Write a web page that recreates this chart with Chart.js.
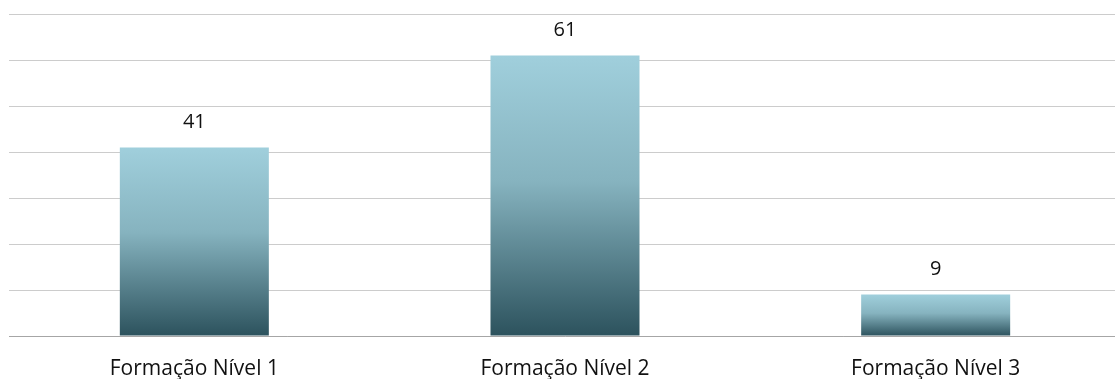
<!DOCTYPE html>
<html>
<head>
<meta charset="utf-8">
<script src="https://cdn.jsdelivr.net/npm/chart.js@4"></script>
<style>
  html, body { margin: 0; padding: 0; background: #ffffff; overflow: hidden; }
  #wrap { width: 1121px; height: 379px; }
</style>
</head>
<body>
<div id="wrap"><canvas id="chart"></canvas></div>
<script>
// Participants per training level
const categories = ['Formação Nível 1', 'Formação Nível 2', 'Formação Nível 3'];
const values = [41, 61, 9];

const FONT = '"Open Sans", sans-serif';

// Vertical gradient fitted to each bar's own height
function barGradient(context) {
  const chart = context.chart;
  const area = chart.chartArea;
  if (!area || context.type !== 'data') return '#9fcdda';
  const y = chart.scales.y;
  const top = y.getPixelForValue(context.parsed.y);
  const bottom = y.getPixelForValue(0);
  const g = chart.ctx.createLinearGradient(0, top, 0, bottom);
  g.addColorStop(0, '#a0cfdc');
  g.addColorStop(0.45, '#86b3bf');
  g.addColorStop(1, '#2c525d');
  return g;
}

// Value labels above the bars
const valueLabels = {
  id: 'valueLabels',
  afterDatasetsDraw(chart) {
    const ctx = chart.ctx;
    const meta = chart.getDatasetMeta(0);
    ctx.save();
    ctx.font = '20px ' + FONT;
    ctx.fillStyle = '#111111';
    ctx.textAlign = 'center';
    ctx.textBaseline = 'middle';
    meta.data.forEach((bar, i) => {
      ctx.fillText(String(values[i]), bar.x, bar.y - 25);
    });
    ctx.restore();
  }
};

new Chart(document.getElementById('chart'), {
  type: 'bar',
  data: {
    labels: categories,
    datasets: [{
      data: values,
      backgroundColor: barGradient,
      borderWidth: 0,
      barPercentage: 0.402,
      categoryPercentage: 1.0
    }]
  },
  options: {
    responsive: true,
    maintainAspectRatio: false,
    animation: false,
    layout: { padding: { left: 9, top: 14, right: 0, bottom: 0 } },
    plugins: {
      legend: { display: false },
      tooltip: { enabled: false }
    },
    scales: {
      x: {
        grid: { display: false },
        border: { display: true, color: '#a6a6a6', width: 1 },
        ticks: {
          color: '#111111',
          font: { family: FONT, size: 21 },
          padding: 12,
          maxRotation: 0
        },
        afterFit(scale) { scale.height = 43; }
      },
      y: {
        min: 0,
        max: 70,
        ticks: { display: false, stepSize: 10 },
        grid: { color: '#cccccc', lineWidth: 1, drawTicks: false },
        border: { display: false }
      }
    }
  },
  plugins: [valueLabels]
});
</script>
</body>
</html>
